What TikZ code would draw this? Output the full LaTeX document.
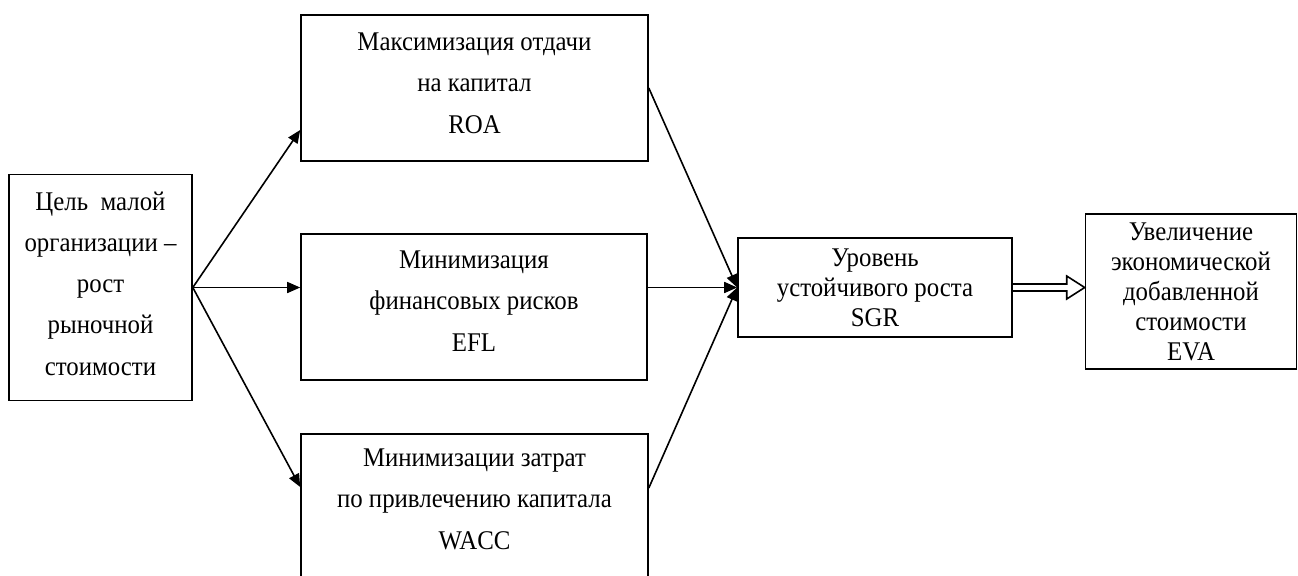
\documentclass[tikz,border=0pt]{standalone}
\usepackage{fontspec}
\setmainfont{Liberation Serif}[FakeStretch=0.92]
\usetikzlibrary{arrows.meta,calc}

\begin{document}
\begin{tikzpicture}[x=0.5pt,y=-0.5pt,
  blok/.style={draw=black,line width=0.8pt,align=center,inner sep=0pt,
    font=\fontsize{13.5}{20.6}\selectfont},
  uzk/.style={font=\fontsize{13.5}{15}\selectfont},
  strelka/.style={line width=0.8pt,-{Triangle[length=6.5pt,width=5.5pt]}}]
\useasboundingbox (0,0) rectangle (1298,575);
% boxes
\node[blok,minimum width=91.5pt,minimum height=113pt,text depth=4pt] (cel) at (100.5,287.5) {Цель\ \ малой\\организации --\\рост\\рыночной\\стоимости};
\node[blok,minimum width=173.5pt,minimum height=73pt,text depth=5pt] (roa) at (474.5,88) {Максимизация отдачи\\на капитал\\ROA};
\node[blok,minimum width=173pt,minimum height=73pt,text depth=6pt] (efl) at (474,307) {Минимизация\\финансовых рисков\\EFL};
\node[blok,minimum width=173.5pt,minimum height=75pt,text depth=10pt] (wacc) at (474.5,509) {Минимизации затрат\\по привлечению капитала\\WACC};
\node[blok,uzk,minimum width=137pt,minimum height=49.5pt] (sgr) at (875,287.5) {Уровень\\устойчивого роста\\SGR};
\node[blok,uzk,minimum width=105.5pt,minimum height=77.5pt] (eva) at (1191,291.5) {Увеличение\\экономической\\добавленной\\стоимости\\EVA};
% arrows
\draw[strelka] (cel.east) -- ([yshift=-21pt]roa.west);
\draw[strelka] (cel.east) -- (cel.east -| efl.west);
\draw[strelka] (cel.east) -- ([yshift=11pt]wacc.west);
\draw[strelka] (roa.east) -- (sgr.west);
\draw[strelka] (efl.east |- sgr.west) -- (sgr.west);
\draw[strelka] ([yshift=10.5pt]wacc.east) -- (sgr.west);
% hollow arrow
\draw[line width=0.8pt] ($(sgr.east)+(0,-3.5)$) -- ($(sgr.east -| eva.west)+(-18,-3.5)$)
  -- ($(sgr.east -| eva.west)+(-18,-11.5)$) -- (sgr.east -| eva.west)
  -- ($(sgr.east -| eva.west)+(-18,11.5)$) -- ($(sgr.east -| eva.west)+(-18,3.5)$)
  -- ($(sgr.east)+(0,3.5)$);
\end{tikzpicture}
\end{document}
